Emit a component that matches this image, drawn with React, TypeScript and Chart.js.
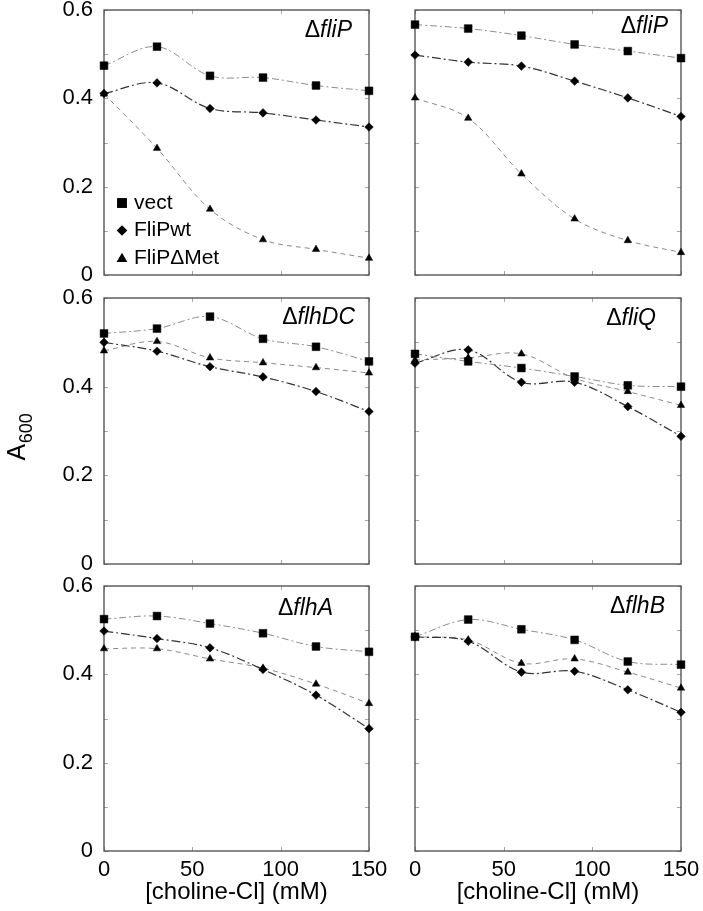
import React, { useEffect, useRef } from "react";
import { Chart, registerables } from "chart.js";

Chart.register(...registerables);

// ---------- data ----------
const concentrations = [0, 30, 60, 90, 120, 150];
const seriesNames = ["vect", "FliPwt", "FliPΔMet"];
const panelStrains = ["fliP", "fliP", "flhDC", "fliQ", "flhA", "flhB"];
const xTickValues = [0, 50, 100, 150];
const yTickValues = [0, 0.2, 0.4, 0.6];
const yMinorValues = [0, 0.1, 0.2, 0.3, 0.4, 0.5, 0.6];
const xTitle = "[choline-Cl] (mM)";

const vectFliP1 = [0.474, 0.517, 0.451, 0.447, 0.429, 0.417];
const wtFliP1 = [0.411, 0.435, 0.377, 0.367, 0.351, 0.335];
const metFliP1 = [0.41, 0.287, 0.149, 0.08, 0.058, 0.038];

const vectFliP2 = [0.567, 0.558, 0.542, 0.522, 0.507, 0.491];
const wtFliP2 = [0.498, 0.482, 0.473, 0.439, 0.401, 0.359];
const metFliP2 = [0.401, 0.355, 0.229, 0.127, 0.078, 0.051];

const vectFlhDC = [0.52, 0.531, 0.558, 0.508, 0.49, 0.457];
const wtFlhDC = [0.5, 0.48, 0.445, 0.422, 0.389, 0.344];
const metFlhDC = [0.481, 0.502, 0.465, 0.454, 0.443, 0.431];

const vectFliQ = [0.474, 0.457, 0.442, 0.423, 0.403, 0.4];
const wtFliQ = [0.453, 0.483, 0.41, 0.41, 0.355, 0.288];
const metFliQ = [0.46, 0.465, 0.474, 0.419, 0.389, 0.358];

const vectFlhA = [0.525, 0.532, 0.515, 0.493, 0.463, 0.451];
const wtFlhA = [0.498, 0.481, 0.46, 0.411, 0.353, 0.277];
const metFlhA = [0.458, 0.458, 0.435, 0.414, 0.378, 0.334];

const vectFlhB = [0.485, 0.524, 0.502, 0.478, 0.429, 0.422];
const wtFlhB = [0.485, 0.475, 0.405, 0.407, 0.365, 0.314];
const metFlhB = [0.485, 0.478, 0.425, 0.435, 0.405, 0.369];

const panelSeries = [
  [vectFliP1, wtFliP1, metFliP1],
  [vectFliP2, wtFliP2, metFliP2],
  [vectFlhDC, wtFlhDC, metFlhDC],
  [vectFliQ, wtFliQ, metFliQ],
  [vectFlhA, wtFlhA, metFlhA],
  [vectFlhB, wtFlhB, metFlhB],
];

// ---------- layout & style ----------
const W = 703;
const H = 911;
const colX = [
  [104, 369],
  [415, 681],
];
const rowY = [
  [10, 275],
  [298, 564],
  [586, 851],
];
const titleInsets = [
  [17, 21],
  [13, 17],
  [14, 20],
  [25, 21],
  [36, 23],
  [16, 21],
];
const FONT = '"Liberation Sans", Arial, Helvetica, sans-serif';

const seriesStyles = [
  { borderColor: "#8c8c8c", borderWidth: 1, borderDash: [7, 3, 2, 3], pointStyle: "rect", pointRadius: 5.5 },
  { borderColor: "#333333", borderWidth: 1.2, borderDash: [9, 3, 2, 3], pointStyle: "rectRot", pointRadius: 4.3 },
  { borderColor: "#8a8a8a", borderWidth: 1, borderDash: [5, 4], pointStyle: "triangle", pointRadius: 4.3 },
];

function drawMarker(ctx: CanvasRenderingContext2D, style: string, x: number, y: number, r: number) {
  ctx.beginPath();
  if (style === "rect") {
    const s = r * Math.SQRT1_2;
    ctx.rect(x - s, y - s, 2 * s, 2 * s);
  } else if (style === "rectRot") {
    ctx.moveTo(x, y - r);
    ctx.lineTo(x + r, y);
    ctx.lineTo(x, y + r);
    ctx.lineTo(x - r, y);
    ctx.closePath();
  } else {
    const h = r * 1.5;
    const half = r * Math.sin(Math.PI / 3);
    ctx.moveTo(x, y - r);
    ctx.lineTo(x + half, y - r + h);
    ctx.lineTo(x - half, y - r + h);
    ctx.closePath();
  }
  ctx.fillStyle = "#000";
  ctx.fill();
}

const framePlugin = {
  id: "frame",
  beforeDatasetsDraw(chart: any) {
    const { ctx, chartArea: a, scales } = chart;
    const x = scales.x;
    const y = scales.y;
    ctx.save();
    ctx.strokeStyle = "#a8a8a8";
    ctx.lineWidth = 1;
    ctx.beginPath();
    yMinorValues.forEach((v) => {
      const py = Math.round(y.getPixelForValue(v)) + 0.5;
      ctx.moveTo(a.left, py);
      ctx.lineTo(a.left + 4, py);
      ctx.moveTo(a.right - 4, py);
      ctx.lineTo(a.right, py);
    });
    xTickValues.forEach((v) => {
      const px = Math.round(x.getPixelForValue(v)) + 0.5;
      ctx.moveTo(px, a.top);
      ctx.lineTo(px, a.top + 4);
      ctx.moveTo(px, a.bottom - 4);
      ctx.lineTo(px, a.bottom);
    });
    ctx.stroke();
    ctx.strokeStyle = "#4a4a4a";
    ctx.lineWidth = 1.3;
    ctx.strokeRect(a.left, a.top, a.right - a.left, a.bottom - a.top);
    ctx.restore();
  },
  afterDraw(chart: any, _args: any, opts: any) {
    const { ctx, chartArea: a } = chart;
    ctx.save();
    // panel title: Δ + italic gene name
    ctx.fillStyle = "#000";
    ctx.textBaseline = "middle";
    ctx.font = `23px ${FONT}`;
    const dW = ctx.measureText("Δ").width;
    ctx.font = `italic 23px ${FONT}`;
    const gW = ctx.measureText(opts.strain).width;
    const right = a.right - opts.inset[0];
    const ty = a.top + opts.inset[1];
    ctx.textAlign = "left";
    ctx.font = `23px ${FONT}`;
    ctx.fillText("Δ", right - gW - dW, ty);
    ctx.font = `italic 23px ${FONT}`;
    ctx.fillText(opts.strain, right - gW, ty);

    if (opts.showLegend) {
      ctx.font = `21px ${FONT}`;
      chart.data.datasets.forEach((ds: any, i: number) => {
        const ly = a.top + 193 + i * 27.5;
        const r = ds.pointStyle === "rect" ? 7 : ds.pointStyle === "rectRot" ? 5.3 : 6.2;
        drawMarker(ctx, ds.pointStyle, a.left + 18, ly + (ds.pointStyle === "triangle" ? 1 : 0), r);
        ctx.fillStyle = "#000";
        ctx.textAlign = "left";
        ctx.textBaseline = "middle";
        ctx.fillText(ds.label, a.left + 30, ly);
      });
    }

    if (opts.showYTitle) {
      const cx = a.left - 79;
      const cy = (a.top + a.bottom) / 2 + 6;
      ctx.translate(cx, cy + 23.5);
      ctx.rotate(-Math.PI / 2);
      ctx.textAlign = "left";
      ctx.textBaseline = "alphabetic";
      ctx.font = `25px ${FONT}`;
      ctx.fillText("A", 0, 0);
      const aw = ctx.measureText("A").width;
      ctx.font = `18px ${FONT}`;
      ctx.fillText("600", aw + 0.5, 7);
    }
    ctx.restore();
  },
};

function buildConfig(i: number) {
  const col = i % 2;
  const row = Math.floor(i / 2);
  const [L, R] = colX[col];
  const [T, B] = rowY[row];
  const yW = col === 0 ? 60 : 0;
  const xH = row === 2 ? 60 : 0;
  const zeroPad = (s: any) => {
    s.paddingLeft = 0;
    s.paddingRight = 0;
    s.paddingTop = 0;
    s.paddingBottom = 0;
  };
  return {
    type: "line",
    data: {
      datasets: seriesNames.map((name, k) => ({
        label: name,
        data: concentrations.map((c, j) => ({ x: c, y: panelSeries[i][k][j] })),
        ...seriesStyles[k],
        pointBackgroundColor: "#000",
        pointBorderColor: "#000",
        pointBorderWidth: 0.5,
        fill: false,
        tension: 0.35,
        clip: false,
      })),
    },
    options: {
      animation: false,
      responsive: false,
      devicePixelRatio: 1,
      events: [],
      layout: {
        padding: { left: L - yW, right: W - R, top: T, bottom: H - B - xH },
      },
      plugins: {
        legend: { display: false },
        tooltip: { enabled: false },
        frame: {
          strain: panelStrains[i],
          inset: titleInsets[i],
          showLegend: i === 0,
          showYTitle: i === 2,
        },
      },
      scales: {
        x: {
          type: "linear",
          position: "bottom",
          min: 0,
          max: 150,
          grid: { display: false, drawTicks: false },
          border: { display: false },
          afterBuildTicks: (s: any) => {
            s.ticks = xTickValues.map((v) => ({ value: v }));
          },
          ticks: {
            display: row === 2,
            color: "#000",
            font: { family: FONT, size: 22 },
            padding: 6,
            maxRotation: 0,
            autoSkip: false,
          },
          title: {
            display: row === 2,
            text: xTitle,
            color: "#000",
            font: { family: FONT, size: 24 },
            padding: { top: 0, bottom: 4 },
          },
          afterFit: (s: any) => {
            s.height = xH;
            zeroPad(s);
          },
        },
        y: {
          type: "linear",
          position: "left",
          min: 0,
          max: 0.6,
          grid: { display: false, drawTicks: false },
          border: { display: false },
          afterBuildTicks: (s: any) => {
            s.ticks = yTickValues.map((v) => ({ value: v }));
          },
          ticks: {
            display: col === 0,
            color: "#000",
            font: { family: FONT, size: 22 },
            padding: 11,
            callback: (v: number) => (v === 0 ? "0" : Number(v).toFixed(1)),
          },
          afterFit: (s: any) => {
            s.width = yW;
            zeroPad(s);
          },
        },
      },
    },
    plugins: [framePlugin],
  };
}

export default function App() {
  const refs = useRef<(HTMLCanvasElement | null)[]>([]);
  useEffect(() => {
    const charts = refs.current.map((cv, i) => new Chart(cv as HTMLCanvasElement, buildConfig(i) as any));
    return () => charts.forEach((c) => c.destroy());
  }, []);
  return (
    <div style={{ position: "absolute", left: 0, top: 0, width: W, height: H, background: "#fff" }}>
      {panelStrains.map((_, i) => (
        <canvas
          key={i}
          ref={(el) => {
            refs.current[i] = el;
          }}
          width={W}
          height={H}
          style={{ position: "absolute", left: 0, top: 0, width: W, height: H }}
        />
      ))}
    </div>
  );
}
